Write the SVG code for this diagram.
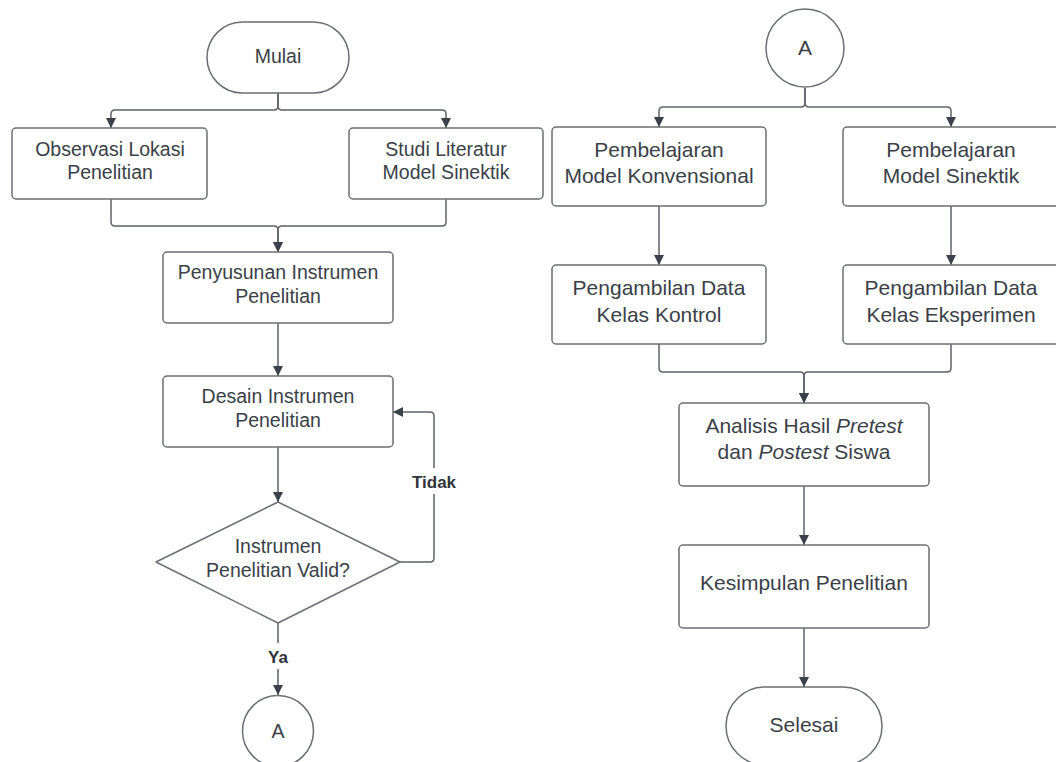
<svg xmlns="http://www.w3.org/2000/svg" width="1056" height="762" viewBox="0 0 1056 762">
<style>
.shape{fill:#ffffff;stroke:#6b6e73;stroke-width:1.5}
.t{font-family:"Liberation Sans",Arial,sans-serif;fill:#3a3f48;text-anchor:middle}
.s{font-size:19.5px}
.l{font-size:21px}
.b{font-family:"Liberation Sans",Arial,sans-serif;font-weight:bold;font-size:17px;fill:#2f333a;text-anchor:middle}
.c{fill:none;stroke:#5d6168;stroke-width:1.5;stroke-linejoin:round}
</style>
<defs>
<marker id="ah" viewBox="0 0 10 10" refX="10" refY="5" markerWidth="10" markerHeight="10" markerUnits="userSpaceOnUse" orient="auto">
<path d="M0,0 L10,5 L0,10 Z" fill="#3a414a"/>
</marker>
</defs>
<rect width="1056" height="762" fill="#ffffff"/>
<g id="connectors">
<path class="c" d="M278,93 V106 Q278,110 274,110 H115 Q111,110 111,114 V128" marker-end="url(#ah)"/>
<path class="c" d="M278,93 V106 Q278,110 282,110 H442 Q446,110 446,114 V128" marker-end="url(#ah)"/>
<path class="c" d="M111,199 V222 Q111,226 115,226 H274 Q278,226 278,230 V252" marker-end="url(#ah)"/>
<path class="c" d="M446,199 V222 Q446,226 442,226 H282 Q278,226 278,230 V252" marker-end="url(#ah)"/>
<path class="c" d="M278,323 V376" marker-end="url(#ah)"/>
<path class="c" d="M278,447 V502" marker-end="url(#ah)"/>
<path class="c" d="M400,562 H430 Q434,562 434,558 V416 Q434,412 430,412 H393" marker-end="url(#ah)"/>
<path class="c" d="M278,623 V695" marker-end="url(#ah)"/>
<path class="c" d="M805,88 V103 Q805,107 801,107 H663 Q659,107 659,111 V127" marker-end="url(#ah)"/>
<path class="c" d="M805,88 V103 Q805,107 809,107 H947 Q951,107 951,111 V127" marker-end="url(#ah)"/>
<path class="c" d="M659,206 V265" marker-end="url(#ah)"/>
<path class="c" d="M951,206 V265" marker-end="url(#ah)"/>
<path class="c" d="M659,344 V368 Q659,372 663,372 H800 Q804,372 804,376 V403" marker-end="url(#ah)"/>
<path class="c" d="M951,344 V368 Q951,372 947,372 H808 Q804,372 804,376 V403" marker-end="url(#ah)"/>
<path class="c" d="M804,486 V545" marker-end="url(#ah)"/>
<path class="c" d="M804,628 V687" marker-end="url(#ah)"/>
<rect x="412" y="468" width="44" height="26" fill="#ffffff"/>
<text class="b" x="434" y="488">Tidak</text>
<rect x="262" y="643" width="32" height="26" fill="#ffffff"/>
<text class="b" x="278" y="663">Ya</text>
</g>
<g id="mulai">
<rect class="shape" x="207" y="22" width="142" height="71" rx="35.5"/>
<text class="t s" x="278" y="63">Mulai</text>
</g>
<g id="observasi">
<rect class="shape" x="12" y="128" width="195" height="71" rx="4"/>
<text class="t s" x="110" y="156">Observasi Lokasi</text>
<text class="t s" x="110" y="179">Penelitian</text>
</g>
<g id="studi">
<rect class="shape" x="349" y="128" width="194" height="71" rx="4"/>
<text class="t s" x="446" y="156">Studi Literatur</text>
<text class="t s" x="446" y="179">Model Sinektik</text>
</g>
<g id="penyusunan">
<rect class="shape" x="163" y="252" width="230" height="71" rx="4"/>
<text class="t s" x="278" y="279">Penyusunan Instrumen</text>
<text class="t s" x="278" y="303">Penelitian</text>
</g>
<g id="desain">
<rect class="shape" x="163" y="376" width="230" height="71" rx="4"/>
<text class="t s" x="278" y="403">Desain Instrumen</text>
<text class="t s" x="278" y="427">Penelitian</text>
</g>
<g id="valid">
<path class="shape" d="M278,502 L400,562 L278,623 L156,562 Z" stroke-linejoin="round"/>
<text class="t s" x="278" y="553">Instrumen</text>
<text class="t s" x="278" y="577">Penelitian Valid?</text>
</g>
<g id="a-left">
<circle class="shape" cx="278" cy="731" r="35.5"/>
<text class="t s" x="278" y="738">A</text>
</g>
<g id="a-right">
<circle class="shape" cx="805" cy="48" r="39"/>
<text class="t l" x="805" y="55">A</text>
</g>
<g id="konvensional">
<rect class="shape" x="552" y="127" width="214" height="79" rx="4"/>
<text class="t l" x="659" y="157">Pembelajaran</text>
<text class="t l" x="659" y="183">Model Konvensional</text>
</g>
<g id="sinektik">
<rect class="shape" x="843" y="127" width="216" height="79" rx="4"/>
<text class="t l" x="951" y="157">Pembelajaran</text>
<text class="t l" x="951" y="183">Model Sinektik</text>
</g>
<g id="kontrol">
<rect class="shape" x="552" y="265" width="214" height="79" rx="4"/>
<text class="t l" x="659" y="295">Pengambilan Data</text>
<text class="t l" x="659" y="322">Kelas Kontrol</text>
</g>
<g id="eksperimen">
<rect class="shape" x="843" y="265" width="216" height="79" rx="4"/>
<text class="t l" x="951" y="295">Pengambilan Data</text>
<text class="t l" x="951" y="322">Kelas Eksperimen</text>
</g>
<g id="analisis">
<rect class="shape" x="679" y="403" width="250" height="83" rx="4"/>
<text class="t l" x="804" y="433">Analisis Hasil <tspan font-style="italic">Pretest</tspan></text>
<text class="t l" x="804" y="459">dan <tspan font-style="italic">Postest</tspan> Siswa</text>
</g>
<g id="kesimpulan">
<rect class="shape" x="679" y="545" width="250" height="83" rx="4"/>
<text class="t l" x="804" y="590">Kesimpulan Penelitian</text>
</g>
<g id="selesai">
<rect class="shape" x="726" y="687" width="156" height="78" rx="39"/>
<text class="t l" x="804" y="732">Selesai</text>
</g>
</svg>
